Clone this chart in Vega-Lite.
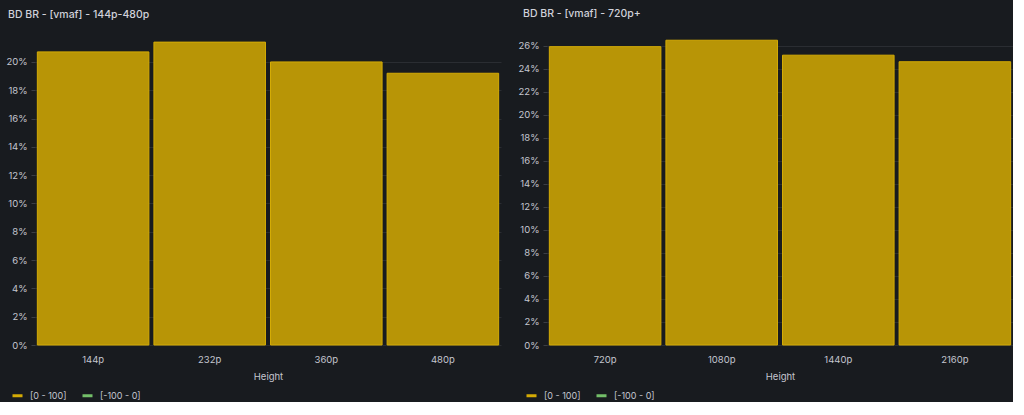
{
  "$schema": "https://vega.github.io/schema/vega-lite/v6.json",
  "background": "#181b1f",
  "padding": {"left": 5, "top": 9, "right": 0, "bottom": 0},
  "spacing": 16,
  "config": {
    "font": "Inter",
    "view": {"stroke": null},
    "axis": {
      "labelColor": "#c4c6cf",
      "labelFont": "Inter",
      "labelFontSize": 9.5,
      "titleColor": "#c4c6cf",
      "titleFont": "Inter",
      "titleFontSize": 9.5,
      "titleFontWeight": "normal",
      "domain": false,
      "gridColor": "#2a2d32",
      "tickColor": "#3a3d44"
    },
    "legend": {
      "labelColor": "#c4c6cf",
      "labelFont": "Inter",
      "labelFontSize": 9,
      "symbolType": "stroke",
      "symbolStrokeWidth": 3,
      "symbolSize": 100,
      "columnPadding": 9,
      "labelOffset": 6
    },
    "title": {
      "color": "#d0d1da",
      "font": "Inter",
      "fontSize": 10.5,
      "fontWeight": 500,
      "anchor": "start"
    }
  },
  "hconcat": [
    {
      "title": {"text": "BD BR - [vmaf] - 144p-480p", "dx": 3, "offset": 20},
      "width": 466,
      "height": 305,
      "data": {"values": [
        {"height": "144p", "value": 20.71, "range": "[0 - 100]"},
        {"height": "232p", "value": 21.4, "range": "[0 - 100]"},
        {"height": "360p", "value": 20.0, "range": "[0 - 100]"},
        {"height": "480p", "value": 19.2, "range": "[0 - 100]"}
      ]},
      "mark": {"type": "bar", "strokeWidth": 1},
      "encoding": {
        "x": {"field": "height", "type": "nominal", "sort": null, "title": "Height",
              "scale": {"paddingInner": 0.043, "paddingOuter": 0.02},
              "axis": {"labelAngle": 0, "ticks": false, "labelPadding": 9, "titlePadding": 8, "grid": false}},
        "y": {"field": "value", "type": "quantitative", "title": null,
              "scale": {"domain": [0, 21.55], "nice": false},
              "axis": {"values": [0, 2, 4, 6, 8, 10, 12, 14, 16, 18, 20], "labelExpr": "datum.value + '%'",
                       "tickSize": 4, "labelPadding": 4, "minExtent": 30, "maxExtent": 30}},
        "fill": {"field": "range", "type": "nominal", "legend": null,
                 "scale": {"domain": ["[0 - 100]", "[-100 - 0]"], "range": ["#b89506", "#5e9c56"]}},
        "stroke": {"field": "range", "type": "nominal",
                   "scale": {"domain": ["[0 - 100]", "[-100 - 0]"], "range": ["#d4ab05", "#73bf69"]},
                   "legend": {"title": null, "orient": "none", "direction": "horizontal", "legendX": -24, "legendY": 349}}
      }
    },
    {
      "title": {"text": "BD BR - [vmaf] - 720p+", "dx": 6, "offset": 20},
      "width": 466,
      "height": 305,
      "data": {"values": [
        {"height": "720p", "value": 25.94, "range": "[0 - 100]"},
        {"height": "1080p", "value": 26.5, "range": "[0 - 100]"},
        {"height": "1440p", "value": 25.2, "range": "[0 - 100]"},
        {"height": "2160p", "value": 24.63, "range": "[0 - 100]"}
      ]},
      "mark": {"type": "bar", "strokeWidth": 1},
      "encoding": {
        "x": {"field": "height", "type": "nominal", "sort": null, "title": "Height",
              "scale": {"paddingInner": 0.043, "paddingOuter": 0.02},
              "axis": {"labelAngle": 0, "ticks": false, "labelPadding": 9, "titlePadding": 8, "grid": false}},
        "y": {"field": "value", "type": "quantitative", "title": null,
              "scale": {"domain": [0, 26.52], "nice": false},
              "axis": {"values": [0, 2, 4, 6, 8, 10, 12, 14, 16, 18, 20, 22, 24, 26], "labelExpr": "datum.value + '%'",
                       "tickSize": 4, "labelPadding": 4, "minExtent": 30, "maxExtent": 30}},
        "fill": {"field": "range", "type": "nominal", "legend": null,
                 "scale": {"domain": ["[0 - 100]", "[-100 - 0]"], "range": ["#b89506", "#5e9c56"]}},
        "stroke": {"field": "range", "type": "nominal",
                   "scale": {"domain": ["[0 - 100]", "[-100 - 0]"], "range": ["#d4ab05", "#73bf69"]},
                   "legend": {"title": null, "orient": "none", "direction": "horizontal", "legendX": -22, "legendY": 349}}
      }
    }
  ],
  "resolve": {"scale": {"y": "independent", "x": "independent"}, "legend": {"stroke": "independent"}}
}
